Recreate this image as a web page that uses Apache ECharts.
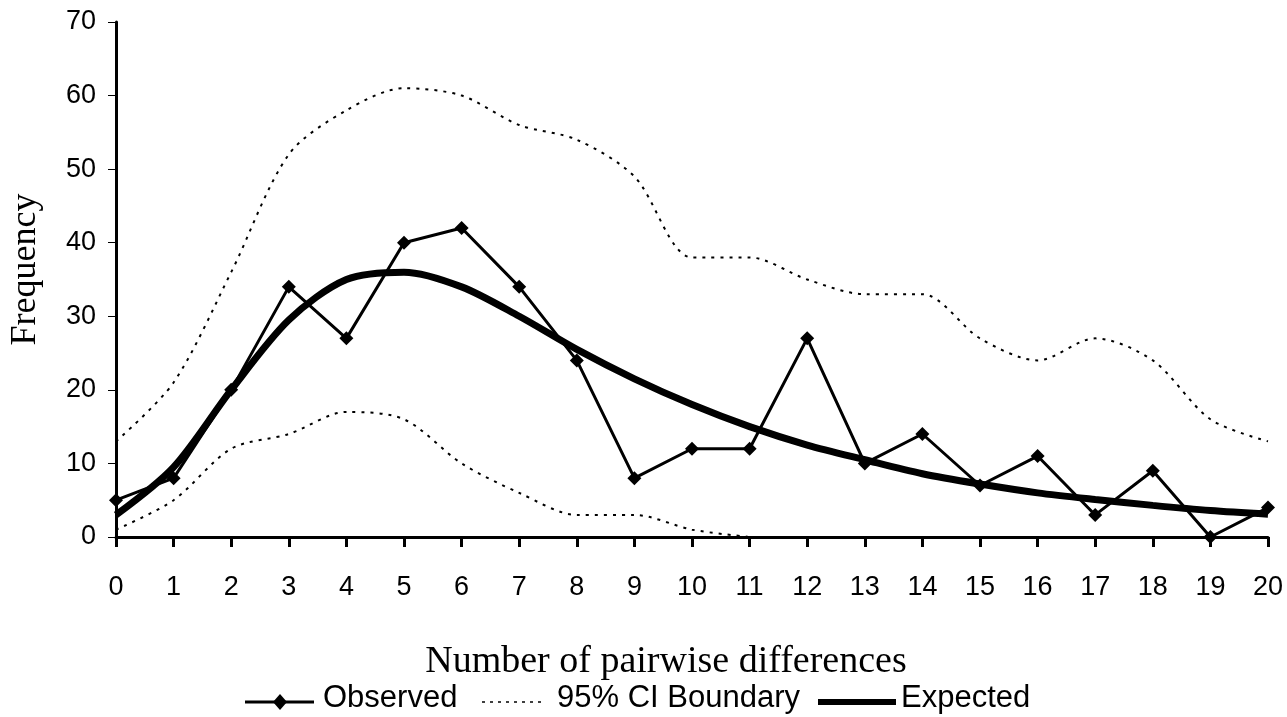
<!DOCTYPE html>
<html>
<head>
<meta charset="utf-8">
<script src="https://cdn.jsdelivr.net/npm/echarts@6/dist/echarts.min.js"></script>
<style>
  html, body { margin: 0; padding: 0; background: #fff; }
  #chart { width: 1287px; height: 717px; }
</style>
</head>
<body>
<div id="chart"></div>
<script>
// Mismatch distribution: number of pairwise differences
const categories = ['0','1','2','3','4','5','6','7','8','9','10','11','12','13','14','15','16','17','18','19','20'];
const observed = [5, 8, 20, 34, 27, 40, 42, 34, 24, 8, 12, 12, 27, 10, 14, 7, 11, 3, 9, 0, 4];
const ciUpper = [13, 21, 36, 52, 58, 61, 60, 56, 54, 49, 38, 38, 35, 33, 33, 27, 24, 27, 24, 16, 13];
const ciLower = [1, 5, 12, 14, 17, 16, 10, 6, 3, 3, 1, 0, null, null, null, null, null, null, null, null, null];
const expected = [3, 9.5, 20, 29.5, 35, 36, 34, 30, 25.5, 21.5, 18, 15, 12.5, 10.5, 8.6, 7.2, 6, 5.1, 4.3, 3.6, 3.1];
const legendNames = ['Observed', '95% CI Boundary', 'Expected'];

const chart = echarts.init(document.getElementById('chart'));
const dotted = { color: '#000', width: 2, type: [3, 6] };
const legendFont = { fontFamily: 'Liberation Sans', fontSize: 31, fill: '#000' };
const legendY = 702;

// Legend key drawn by hand: line samples followed by their labels
const legendGraphics = [
  { type: 'line', shape: { x1: 245, y1: legendY, x2: 314, y2: legendY }, style: { stroke: '#000', lineWidth: 3 } },
  { type: 'polygon', shape: { points: [[280, legendY - 8], [287, legendY], [280, legendY + 8], [273, legendY]] }, style: { fill: '#000' } },
  { type: 'text', left: 323, top: legendY - 19, style: Object.assign({ text: legendNames[0] }, legendFont) },
  { type: 'line', shape: { x1: 482, y1: legendY, x2: 545, y2: legendY }, style: { stroke: '#000', lineWidth: 1.5, lineDash: [3, 5] } },
  { type: 'text', left: 557, top: legendY - 19, style: Object.assign({ text: legendNames[1] }, legendFont) },
  { type: 'line', shape: { x1: 818, y1: legendY, x2: 896, y2: legendY }, style: { stroke: '#000', lineWidth: 6 } },
  { type: 'text', left: 901, top: legendY - 19, style: Object.assign({ text: legendNames[2] }, legendFont) }
];

chart.setOption({
  animation: false,
  grid: { left: 115, right: 19, top: 22, bottom: 180 },
  graphic: legendGraphics,
  xAxis: {
    type: 'category',
    data: categories,
    boundaryGap: false,
    name: 'Number of pairwise differences',
    nameLocation: 'middle',
    nameGap: 106,
    nameTextStyle: { fontFamily: 'Liberation Serif', fontSize: 38, color: '#000', padding: [0, 52, 0, 0] },
    axisLine: { lineStyle: { color: '#000', width: 3 } },
    axisTick: { alignWithLabel: true, length: 10, lineStyle: { color: '#000', width: 3 } },
    axisLabel: { fontFamily: 'Liberation Sans', fontSize: 27, color: '#000', margin: 37 },
    splitLine: { show: false }
  },
  yAxis: {
    type: 'value',
    min: 0,
    max: 70,
    interval: 10,
    name: 'Frequency',
    nameLocation: 'middle',
    nameGap: 72,
    nameTextStyle: { fontFamily: 'Liberation Serif', fontSize: 36, color: '#000', padding: [0, 0, 0, 20] },
    axisLine: { show: true, lineStyle: { color: '#000', width: 3 } },
    axisTick: { show: true, length: 8, lineStyle: { color: '#000', width: 1 } },
    axisLabel: { fontFamily: 'Liberation Sans', fontSize: 27, color: '#000', margin: 20 },
    splitLine: { show: false }
  },
  series: [
    {
      name: legendNames[0],
      type: 'line',
      data: observed,
      symbol: 'diamond',
      symbolSize: 14,
      lineStyle: { color: '#000', width: 3 },
      itemStyle: { color: '#000' },
      z: 4
    },
    {
      name: legendNames[1],
      type: 'line',
      data: ciUpper,
      smooth: 0.3,
      symbol: 'none',
      lineStyle: dotted,
      z: 2
    },
    {
      name: legendNames[1],
      type: 'line',
      data: ciLower,
      smooth: 0.3,
      symbol: 'none',
      lineStyle: dotted,
      z: 2
    },
    {
      name: legendNames[2],
      type: 'line',
      data: expected,
      smooth: 0.3,
      symbol: 'none',
      lineStyle: { color: '#000', width: 7 },
      z: 3
    }
  ]
});
</script>
</body>
</html>
